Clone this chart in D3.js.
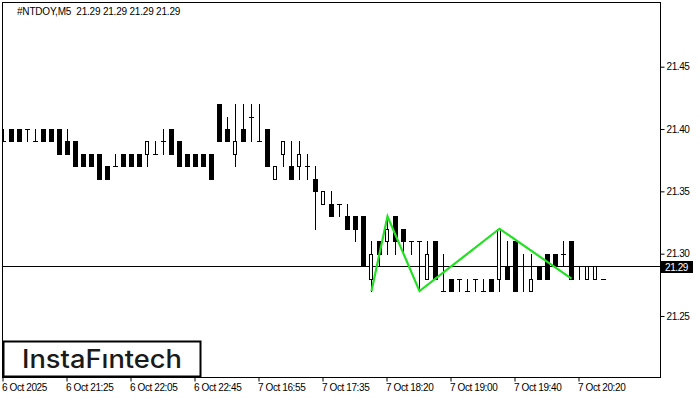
<!DOCTYPE html>
<html>
<head>
<meta charset="utf-8">
<script src="https://cdn.jsdelivr.net/npm/d3@7"></script>
<style>
  body { margin: 0; background: #fff; }
  text { font-family: "Liberation Sans", Arial, sans-serif; }
</style>
</head>
<body>
<div id="chart"></div>
<script>
// bar data, M5 candles, left to right
const opens  = [21.39,21.40,21.40,21.40,21.39,21.40,21.40,21.40,21.39,21.39,
                21.38,21.38,21.38,21.37,21.37,21.38,21.38,21.38,21.38,21.38,
                21.39,21.40,21.39,21.38,21.38,21.38,21.38,21.42,21.40,21.38,
                21.40,21.41,21.39,21.40,21.36,21.38,21.37,21.37,21.37,21.36,
                21.34,21.34,21.34,21.33,21.33,21.33,21.28,21.31,21.31,21.33,
                21.32,21.31,21.31,21.28,21.31,21.27,21.28,21.28,21.27,21.28,
                21.27,21.28,21.28,21.29,21.31,21.29,21.27,21.29,21.30,21.30,
                21.30,21.31,21.29,21.28,21.28,21.28];
const highs  = [21.40,21.40,21.40,21.40,21.40,21.40,21.40,21.40,21.40,21.39,
                21.38,21.38,21.38,21.37,21.38,21.38,21.38,21.38,21.39,21.39,
                21.40,21.40,21.39,21.38,21.38,21.38,21.38,21.42,21.41,21.42,
                21.42,21.42,21.42,21.40,21.37,21.39,21.39,21.39,21.38,21.37,
                21.35,21.35,21.34,21.34,21.33,21.33,21.31,21.31,21.33,21.33,
                21.32,21.31,21.31,21.31,21.31,21.30,21.28,21.28,21.28,21.28,
                21.28,21.28,21.32,21.31,21.31,21.30,21.30,21.29,21.30,21.30,
                21.31,21.31,21.29,21.29,21.29,21.28];
const lows   = [21.39,21.39,21.39,21.39,21.39,21.39,21.39,21.38,21.38,21.37,
                21.37,21.37,21.36,21.36,21.37,21.37,21.37,21.37,21.37,21.38,
                21.38,21.38,21.37,21.37,21.37,21.37,21.36,21.39,21.39,21.37,
                21.39,21.39,21.39,21.37,21.36,21.37,21.36,21.36,21.36,21.32,
                21.34,21.33,21.33,21.32,21.31,21.29,21.27,21.29,21.30,21.30,
                21.30,21.30,21.27,21.28,21.28,21.27,21.27,21.27,21.27,21.27,
                21.27,21.27,21.27,21.28,21.27,21.27,21.27,21.28,21.28,21.29,
                21.29,21.28,21.28,21.28,21.28,21.28];
const closes = [21.39,21.39,21.39,21.40,21.39,21.39,21.39,21.38,21.38,21.37,
                21.37,21.37,21.36,21.36,21.37,21.37,21.37,21.37,21.39,21.38,
                21.39,21.38,21.37,21.37,21.37,21.37,21.36,21.39,21.39,21.39,
                21.39,21.41,21.39,21.37,21.37,21.39,21.36,21.38,21.37,21.35,
                21.35,21.33,21.34,21.32,21.32,21.29,21.30,21.30,21.32,21.31,
                21.31,21.31,21.31,21.30,21.28,21.27,21.27,21.28,21.27,21.28,
                21.27,21.27,21.32,21.28,21.27,21.29,21.28,21.28,21.28,21.29,
                21.30,21.28,21.29,21.29,21.29,21.28];

// pattern (green zigzag)
const patternBars   = [46, 48, 52, 62, 71];
const patternPrices = [21.27, 21.33, 21.27, 21.32, 21.28];

const timeTickBars   = [0, 8, 16, 24, 32, 40, 48, 56, 64, 72];
const timeTickLabels = ["6 Oct 2025","6 Oct 21:25","6 Oct 22:05","6 Oct 22:45","7 Oct 16:55",
                        "7 Oct 17:35","7 Oct 18:20","7 Oct 19:00","7 Oct 19:40","7 Oct 20:20"];
const priceTicks = [21.25, 21.30, 21.35, 21.40, 21.45];
const lastPrice = 21.29;
const titleText = "#NTDOY,M5  21.29 21.29 21.29 21.29";

const W = 700, H = 400;
const plotLeft = 2.5, plotTop = 2.5, plotRight = 660.5, plotBottom = 377.5;

const svg = d3.select("#chart").append("svg")
  .attr("width", W).attr("height", H)
  .style("display", "block");

svg.append("rect").attr("width", W).attr("height", H).attr("fill", "#fff");

const n = opens.length;
var x = d3.scaleBand()
  .domain(d3.range(n))
  .range([-1, -1 + 8 * n])
  .padding(0);
var y = d3.scaleLinear()
  .domain([21.25, 21.45])
  .range([316, 66.7]);

const cx = i => Math.round(x(i) + x.bandwidth() / 2);
const py = p => Math.round(y(p));

// plot clip
svg.append("clipPath").attr("id", "plotclip")
  .append("rect")
  .attr("x", plotLeft).attr("y", plotTop)
  .attr("width", plotRight - plotLeft).attr("height", plotBottom - plotTop);

const plot = svg.append("g").attr("clip-path", "url(#plotclip)");

// current price line
plot.append("line")
  .attr("x1", plotLeft).attr("x2", plotRight)
  .attr("y1", py(lastPrice) + 0.5).attr("y2", py(lastPrice) + 0.5)
  .attr("stroke", "#000").attr("stroke-width", 1);

// candles
const bars = plot.selectAll(".bar")
  .data(d3.range(n))
  .enter().append("g")
  .attr("class", "bar")
  .attr("shape-rendering", "crispEdges");

bars.append("line")
  .attr("x1", i => cx(i) + 0.5).attr("x2", i => cx(i) + 0.5)
  .attr("y1", i => py(highs[i])).attr("y2", i => py(lows[i]) + 1)
  .attr("stroke", "#000");

bars.filter(i => opens[i] > closes[i])
  .append("rect")
  .attr("x", i => cx(i) - 2)
  .attr("y", i => py(opens[i]))
  .attr("width", 5)
  .attr("height", i => py(closes[i]) - py(opens[i]) + 1)
  .attr("fill", "#000");

bars.filter(i => opens[i] < closes[i])
  .append("rect")
  .attr("x", i => cx(i) - 1.5)
  .attr("y", i => py(closes[i]) + 0.5)
  .attr("width", 3)
  .attr("height", i => py(opens[i]) - py(closes[i]))
  .attr("fill", "#fff")
  .attr("stroke", "#000");

bars.filter(i => opens[i] === closes[i])
  .append("line")
  .attr("x1", i => cx(i) - 2).attr("x2", i => cx(i) + 3)
  .attr("y1", i => py(opens[i]) + 0.5).attr("y2", i => py(opens[i]) + 0.5)
  .attr("stroke", "#000");

// zigzag pattern
const zig = d3.line()
  .x((d, k) => cx(patternBars[k]) + 0.5)
  .y(d => y(d));
plot.append("path")
  .datum(patternPrices)
  .attr("d", zig)
  .attr("fill", "none")
  .attr("stroke", "#22e022")
  .attr("stroke-width", 2.2)
  .attr("stroke-linejoin", "miter");

// frame
svg.append("rect")
  .attr("x", plotLeft).attr("y", plotTop)
  .attr("width", plotRight - plotLeft).attr("height", plotBottom - plotTop)
  .attr("fill", "none").attr("stroke", "#000");

// price axis
const yAxis = svg.append("g")
  .attr("transform", "translate(" + plotRight + ",0)")
  .call(d3.axisRight(y).tickValues(priceTicks).tickSize(4).tickPadding(2).tickFormat(d3.format(".2f")));
yAxis.select(".domain").remove();
yAxis.selectAll("text")
  .style("font-size", "10px")
  .style("letter-spacing", "-0.4px")
  .attr("fill", "#000");

// last price label
svg.append("rect")
  .attr("x", 661).attr("y", py(lastPrice) - 5)
  .attr("width", 32).attr("height", 12)
  .attr("fill", "#000");
svg.append("text")
  .attr("x", 665).attr("y", py(lastPrice) + 4.5)
  .attr("fill", "#fff")
  .style("font-size", "10px")
  .style("letter-spacing", "-0.4px")
  .text(lastPrice.toFixed(2));

// time axis
const xAxis = svg.append("g")
  .attr("transform", "translate(0," + plotBottom + ")")
  .call(d3.axisBottom(x).tickValues(timeTickBars).tickSize(4)
    .tickFormat((d) => timeTickLabels[timeTickBars.indexOf(d)]));
xAxis.select(".domain").remove();
xAxis.selectAll("text")
  .attr("text-anchor", "start")
  .attr("x", -1)
  .attr("y", 0)
  .attr("dy", "13.5px")
  .style("font-size", "10px")
  .style("letter-spacing", "-0.4px")
  .attr("fill", "#000");

// title
svg.append("text")
  .attr("x", 17).attr("y", 15)
  .style("font-size", "10px")
  .style("letter-spacing", "-0.2px")
  .style("white-space", "pre")
  .attr("fill", "#000")
  .text(titleText);

// logo
svg.append("rect")
  .attr("x", 3.5).attr("y", 341.5)
  .attr("width", 197).attr("height", 35)
  .attr("fill", "#fff").attr("stroke", "#000").attr("stroke-width", 2);
svg.append("text")
  .attr("x", 22).attr("y", 368)
  .attr("textLength", 160)
  .attr("lengthAdjust", "spacingAndGlyphs")
  .style("font-family", "Inter, 'Open Sans', sans-serif")
  .style("font-size", "25px")
  .style("font-weight", 500)
  .attr("fill", "#1a1a1a")
  .text("InstaF\u0131ntech");
</script>
</body>
</html>
